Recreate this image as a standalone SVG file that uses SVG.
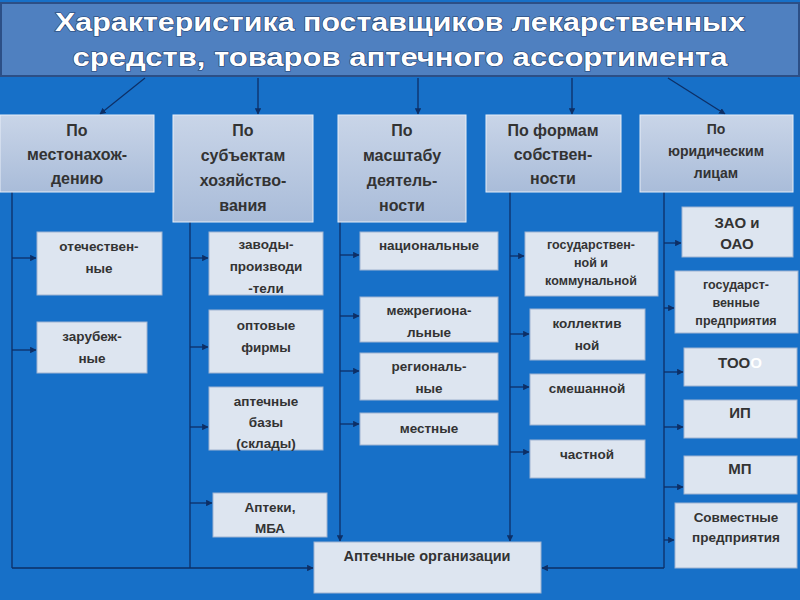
<svg xmlns="http://www.w3.org/2000/svg" width="800" height="600" viewBox="0 0 800 600">
<defs>
<linearGradient id="hg" x1="0" y1="0" x2="0" y2="1"><stop offset="0" stop-color="#c9d5e8"/><stop offset="1" stop-color="#a9bcd9"/></linearGradient>
<marker id="a" viewBox="0 0 10 10" refX="9" refY="5" markerWidth="5" markerHeight="5" orient="auto"><path d="M0,0L10,5L0,10z" fill="#0d2f66"/></marker>
</defs>
<style>
text{font-family:"Liberation Sans",Arial,sans-serif;font-weight:bold;fill:#333;text-anchor:middle}
.h rect{fill:url(#hg);stroke:#e8eef7;stroke-width:1}
.c rect{fill:#dde5f0;stroke:#9fb3d1;stroke-width:1}
.h text{font-size:16px}
.c text{font-size:13.5px}
.l line,.l path{stroke:#0d2f66;stroke-width:1.3;fill:none}
.ar{marker-end:url(#a)}
.t{font-size:25px;fill:#fff;stroke:#24406e;stroke-width:1.2px;paint-order:stroke}
</style>
<rect width="800" height="600" fill="#1770c8"/>
<g id="title"><rect x="1" y="3" width="798" height="73" fill="#4f80c0" stroke="#2c4f86" stroke-width="2"/>
<text class="t" x="400" y="31" textLength="690" lengthAdjust="spacingAndGlyphs">Характеристика поставщиков лекарственных</text>
<text class="t" x="400" y="66" textLength="655" lengthAdjust="spacingAndGlyphs">средств, товаров аптечного ассортимента</text></g>
<g class="l" id="connectors">
<line class="ar" x1="145" y1="78" x2="100" y2="114"/>
<line class="ar" x1="258" y1="78" x2="258" y2="114"/>
<line class="ar" x1="418" y1="78" x2="418" y2="114"/>
<line class="ar" x1="572" y1="78" x2="572" y2="114"/>
<line class="ar" x1="668" y1="78" x2="725" y2="114"/>
<path d="M12,192V568"/><line class="ar" x1="12" y1="568" x2="313" y2="568"/>
<line class="ar" x1="12" y1="258" x2="36" y2="258"/><line class="ar" x1="12" y1="350" x2="36" y2="350"/>
<path d="M190,222V568"/>
<line class="ar" x1="190" y1="258" x2="208" y2="258"/><line class="ar" x1="190" y1="347" x2="208" y2="347"/>
<line class="ar" x1="190" y1="427" x2="208" y2="427"/><line class="ar" x1="190" y1="503" x2="212" y2="503"/>
<line class="ar" x1="340" y1="222" x2="340" y2="541"/>
<line class="ar" x1="340" y1="255" x2="359" y2="255"/><line class="ar" x1="340" y1="316" x2="359" y2="316"/>
<line class="ar" x1="340" y1="371" x2="359" y2="371"/><line class="ar" x1="340" y1="424" x2="359" y2="424"/>
<line class="ar" x1="510" y1="192" x2="510" y2="541"/>
<line class="ar" x1="510" y1="256" x2="524" y2="256"/><line class="ar" x1="510" y1="334" x2="529" y2="334"/>
<line class="ar" x1="510" y1="387" x2="529" y2="387"/><line class="ar" x1="510" y1="452" x2="529" y2="452"/>
<path d="M664,192V568"/><line class="ar" x1="664" y1="568" x2="542" y2="568"/>
<line class="ar" x1="664" y1="243" x2="681" y2="243"/><line class="ar" x1="664" y1="308" x2="674" y2="308"/>
<line class="ar" x1="664" y1="372" x2="683" y2="372"/><line class="ar" x1="664" y1="427" x2="683" y2="427"/>
<line class="ar" x1="664" y1="487" x2="683" y2="487"/><line class="ar" x1="664" y1="540" x2="674" y2="540"/>
</g>
<g id="h1" class="h"><rect x="0" y="115" width="154" height="77"/><text x="77" y="136">По</text><text x="77" y="160">местонахож-</text><text x="77" y="184">дению</text></g>
<g id="h2" class="h"><rect x="173" y="115" width="140" height="107"/><text x="243" y="136">По</text><text x="243" y="161">субъектам</text><text x="243" y="186">хозяйство-</text><text x="243" y="211">вания</text></g>
<g id="h3" class="h"><rect x="338" y="115" width="128" height="107"/><text x="402" y="136">По</text><text x="402" y="161">масштабу</text><text x="402" y="186">деятель-</text><text x="402" y="211">ности</text></g>
<g id="h4" class="h"><rect x="486" y="115" width="135" height="77"/><text x="553" y="136">По формам</text><text x="553" y="160">собствен-</text><text x="553" y="184">ности</text></g>
<g id="h5" class="h"><rect x="640" y="115" width="153" height="77"/><text x="716" y="134" style="font-size:14px">По</text><text x="716" y="156" style="font-size:14px">юридическим</text><text x="716" y="178" style="font-size:14px">лицам</text></g>
<g id="c1a" class="c"><rect x="37" y="232" width="125" height="63"/><text x="99" y="251">отечествен-</text><text x="99" y="273">ные</text></g>
<g id="c1b" class="c"><rect x="37" y="322" width="110" height="51"/><text x="92" y="341">зарубеж-</text><text x="92" y="363">ные</text></g>
<g id="c2a" class="c"><rect x="209" y="232" width="114" height="63"/><text x="266" y="249">заводы-</text><text x="266" y="271">производи</text><text x="266" y="293">-тели</text></g>
<g id="c2b" class="c"><rect x="209" y="310" width="114" height="63"/><text x="266" y="330">оптовые</text><text x="266" y="352">фирмы</text></g>
<g id="c2c" class="c"><rect x="209" y="387" width="114" height="63"/><text x="266" y="406">аптечные</text><text x="266" y="427">базы</text><text x="266" y="448">(склады)</text></g>
<g id="c2d" class="c"><rect x="213" y="493" width="114" height="44"/><text x="270" y="512">Аптеки,</text><text x="270" y="533">МБА</text></g>
<g id="c3a" class="c"><rect x="360" y="232" width="138" height="38"/><text x="429" y="250">национальные</text></g>
<g id="c3b" class="c"><rect x="360" y="297" width="138" height="45"/><text x="429" y="315">межрегиона-</text><text x="429" y="337">льные</text></g>
<g id="c3c" class="c"><rect x="360" y="353" width="138" height="47"/><text x="429" y="371">региональ-</text><text x="429" y="393">ные</text></g>
<g id="c3d" class="c"><rect x="360" y="413" width="138" height="32"/><text x="429" y="433">местные</text></g>
<g id="c4a" class="c"><rect x="525" y="232" width="133" height="64"/><text x="591" y="249" style="font-size:12.5px">государствен-</text><text x="591" y="267" style="font-size:12.5px">ной и</text><text x="591" y="285" style="font-size:12.5px">коммунальной</text></g>
<g id="c4b" class="c"><rect x="530" y="309" width="115" height="51"/><text x="587" y="328">коллектив</text><text x="587" y="350">ной</text></g>
<g id="c4c" class="c"><rect x="530" y="374" width="115" height="51"/><text x="587" y="393">смешанной</text></g>
<g id="c4d" class="c"><rect x="530" y="440" width="115" height="38"/><text x="587" y="459">частной</text></g>
<g id="c5a" class="c"><rect x="682" y="207" width="111" height="50"/><text x="737" y="228" style="font-size:15px">ЗАО и</text><text x="737" y="249" style="font-size:15px">ОАО</text></g>
<g id="c5b" class="c"><rect x="675" y="271" width="123" height="62"/><text x="736" y="289" style="font-size:12.5px">государст-</text><text x="736" y="307" style="font-size:12.5px">венные</text><text x="736" y="325" style="font-size:12.5px">предприятия</text></g>
<g id="c5c" class="c"><rect x="684" y="348" width="113" height="38"/><text x="740" y="368" style="font-size:15px">ТОО<tspan style="fill:#fff">О</tspan></text></g>
<g id="c5d" class="c"><rect x="684" y="400" width="113" height="38"/><text x="740" y="418" style="font-size:15px">ИП</text></g>
<g id="c5e" class="c"><rect x="684" y="456" width="113" height="38"/><text x="740" y="474" style="font-size:15px">МП</text></g>
<g id="c5f" class="c"><rect x="675" y="503" width="122" height="65"/><text x="736" y="522">Совместные</text><text x="736" y="542">предприятия</text></g>
<g id="org" class="c"><rect x="314" y="542" width="227" height="51"/><text x="427" y="561" style="font-size:14.5px">Аптечные организации</text></g>
</svg>
